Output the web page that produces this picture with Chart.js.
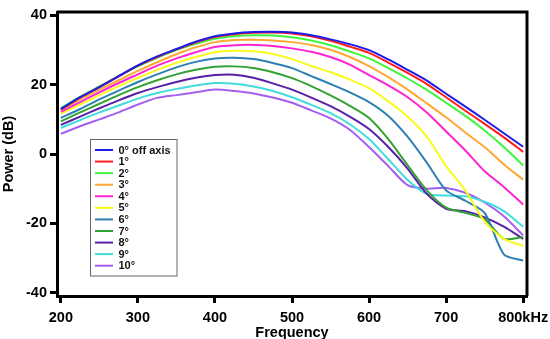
<!DOCTYPE html>
<html>
<head>
<meta charset="utf-8">
<script src="https://cdn.jsdelivr.net/npm/chart.js@4/dist/chart.umd.min.js"></script>
<style>
  html, body { margin: 0; padding: 0; background: #fff; }
  #wrap { width: 550px; height: 339px; }
</style>
</head>
<body>
<div id="wrap"><canvas id="chart"></canvas></div>
<script>
// Off-axis power curves, 0..10 degrees.
// sampled every 25 kHz from 200 to 800 kHz.
const freqs = [200, 225, 250, 275, 300, 325, 350, 375, 400, 425, 450, 475, 500,
               525, 550, 575, 600, 625, 650, 675, 700, 725, 750, 775, 800];

const deg0  = [13, 16.4, 19.3, 22.5, 25.6, 28.2, 30.3, 32.4, 34, 34.8, 35.2, 35.3, 35.1,
               34.3, 33.1, 31.7, 30, 27.3, 24.3, 21.2, 17.4, 13.7, 9.9, 6, 2.1];
const deg1  = [12.8, 16.3, 19.3, 22.4, 25.5, 28, 30.2, 32.2, 33.8, 34.6, 35, 35.1, 34.8,
               34, 32.7, 31, 29.2, 26.4, 23.4, 20.2, 16.4, 12.5, 8.7, 4.8, 0.6];
const deg2  = [13.3, 16.5, 19.5, 22.5, 25.3, 27.8, 30, 31.8, 33.3, 34, 34.3, 34.2, 33.7,
               32.8, 31.4, 29.6, 27.6, 24.8, 21.8, 18.5, 14.8, 11, 6.8, 2, -3.3];
const deg3  = [12.7, 15.8, 18.6, 21.3, 24, 26.5, 28.8, 30.8, 32.3, 32.9, 33, 32.8, 32.3,
               31.5, 30.1, 28, 25.4, 22.2, 18.6, 14.6, 10.6, 6.2, 2, -3, -7.4];
const deg4  = [12.2, 15, 17.8, 20.5, 23, 25.5, 27.6, 29.4, 30.9, 31.4, 31.5, 31.2, 30.5,
               29.5, 28, 25.8, 22.8, 19.8, 16.4, 12, 6.5, 1, -5, -9.5, -14.6];
const deg5  = [11.6, 14.3, 17, 19.6, 22, 24.3, 26.3, 28, 29.4, 29.8, 29.7, 28.9, 27.4,
               25.4, 23.6, 21.5, 19, 15.2, 10.8, 5, -3.5, -10.5, -19.5, -24.5, -26.5];
const deg6  = [10.4, 13, 15.8, 18.3, 20.8, 23, 25, 26.6, 27.6, 27.8, 27.4, 26.3, 24.8,
               22.5, 20.2, 17.8, 15, 11, 5, -2.5, -10.5, -13.5, -17, -29, -30.8];
const deg7  = [9.4, 12, 14.5, 17, 19.3, 21.3, 23, 24.3, 25.2, 25.3, 24.8, 23.6, 21.9,
               19.6, 16.9, 13.9, 10.4, 4.3, -3.2, -10.5, -15.5, -17, -18.8, -24.5, -24];
const deg8  = [8.4, 10.8, 13.2, 15.5, 17.6, 19.3, 20.8, 22, 22.8, 22.9, 22, 20.4, 18.6,
               16.3, 13.8, 10.8, 7.2, 2, -4.2, -11.5, -15.8, -16.5, -18.3, -21, -24.5];
const deg9  = [7.5, 9.8, 12, 14, 16, 17.6, 18.8, 19.8, 20.5, 20.3, 19.5, 18.2, 16.4,
               14.2, 11.8, 8.6, 4.3, -1.5, -7.5, -11.5, -12, -12.2, -13.8, -16.5, -21];
const deg10 = [5.8, 8, 10, 12, 14.3, 16.2, 17, 17.8, 18.6, 18.2, 17.5, 16.3, 14.8,
               12.6, 10.3, 7, 2, -3.5, -9, -10, -9.8, -11.2, -14, -18, -23.5];

const seriesLabels = ['0° off axis', '1°', '2°', '3°', '4°', '5°', '6°', '7°', '8°', '9°', '10°'];
const seriesValues = [deg0, deg1, deg2, deg3, deg4, deg5, deg6, deg7, deg8, deg9, deg10];
const seriesColors = ['#1c1ce8', '#ff1c1c', '#3ef53e', '#ffa733', '#ff22d0', '#fafa1a',
                      '#2e80b2', '#32a232', '#5a1fa8', '#42dcdc', '#a45ef0'];

const xTicks = [200, 300, 400, 500, 600, 700, 800];
const yTicks = [-40, -20, 0, 20, 40];

const tickFont = { family: 'Liberation Sans, Arial, sans-serif', size: 14.5, weight: 'bold' };

// Top and right edges of the plot frame (the axes draw left and bottom).
const framePlugin = {
    id: 'frame',
    afterDraw(chart) {
        const a = chart.chartArea;
        const ctx = chart.ctx;
        ctx.save();
        ctx.strokeStyle = '#000';
        ctx.lineWidth = 3;
        ctx.beginPath();
        ctx.moveTo(a.left, a.top);
        ctx.lineTo(a.right, a.top);
        ctx.lineTo(a.right, a.bottom);
        ctx.stroke();
        ctx.restore();
    }
};

// Boxed legend sitting inside the plot, lower left.
const insetLegend = {
    id: 'insetLegend',
    afterDraw(chart) {
        const ctx = chart.ctx;
        const a = chart.chartArea;
        const x0 = a.left + 33.5, y0 = a.top + 127.5, w = 86.5, h = 136.5;
        ctx.save();
        ctx.fillStyle = '#fff';
        ctx.fillRect(x0, y0, w, h);
        ctx.strokeStyle = '#666';
        ctx.lineWidth = 1;
        ctx.strokeRect(x0, y0, w, h);
        ctx.font = 'bold 11px "Liberation Sans", Arial, sans-serif';
        ctx.textBaseline = 'middle';
        chart.data.datasets.forEach(function(ds, i) {
            const y = y0 + 10.5 + i * 11.57;
            ctx.strokeStyle = ds.borderColor;
            ctx.lineWidth = 2;
            ctx.beginPath();
            ctx.moveTo(x0 + 4.5, y);
            ctx.lineTo(x0 + 22.5, y);
            ctx.stroke();
            ctx.fillStyle = '#111';
            ctx.fillText(ds.label, x0 + 28, y + 0.5);
        });
        ctx.restore();
    }
};

const datasets = seriesValues.map(function(vals, i) {
    return {
        label: seriesLabels[i],
        data: freqs.map(function(f, j) { return { x: f, y: vals[j] }; }),
        borderColor: seriesColors[i],
        backgroundColor: seriesColors[i],
        borderWidth: 2,
        pointRadius: 0,
        tension: 0.25,
        fill: false,
    };
});

new Chart(document.getElementById('chart'), {
    type: 'line',
    data: { datasets: datasets },
    options: {
        responsive: true,
        maintainAspectRatio: false,
        animation: false,
        layout: { padding: { left: 0, top: 12, right: 23, bottom: 0 } },
        plugins: {
            legend: { display: false },
            tooltip: { enabled: false }
        },
        scales: {
            x: {
                type: 'linear',
                min: 195,
                max: 805,
                afterBuildTicks: function(scale) {
                    scale.ticks = xTicks.map(function(v) { return { value: v }; });
                },
                afterFit: function(scale) {
                    scale.height = 43;
                    scale.paddingLeft = 0;
                    scale.paddingRight = 0;
                },
                ticks: {
                    color: '#000',
                    font: tickFont,
                    padding: 6,
                    maxRotation: 0,
                    autoSkip: false,
                    callback: function(v) { return v === 800 ? '800kHz' : String(v); }
                },
                grid: {
                    drawOnChartArea: false,
                    drawTicks: true,
                    tickLength: 7,
                    tickWidth: 3,
                    tickColor: '#000'
                },
                border: { display: true, width: 3, color: '#000' },
                title: {
                    display: true,
                    text: 'Frequency',
                    color: '#000',
                    font: tickFont,
                    padding: { top: 0, bottom: -3 }
                }
            },
            y: {
                min: -41,
                max: 41,
                afterBuildTicks: function(scale) {
                    scale.ticks = yTicks.map(function(v) { return { value: v }; });
                },
                afterFit: function(scale) {
                    scale.width = 57;
                    scale.paddingTop = 0;
                    scale.paddingBottom = 0;
                },
                ticks: {
                    color: '#000',
                    font: tickFont,
                    padding: 3
                },
                grid: {
                    drawOnChartArea: false,
                    drawTicks: true,
                    tickLength: 7,
                    tickWidth: 3,
                    tickColor: '#000'
                },
                border: { display: true, width: 3, color: '#000' },
                title: {
                    display: true,
                    text: 'Power (dB)',
                    color: '#000',
                    font: tickFont,
                    padding: { top: 0, bottom: 0 }
                }
            }
        }
    },
    plugins: [framePlugin, insetLegend]
});
</script>
</body>
</html>
